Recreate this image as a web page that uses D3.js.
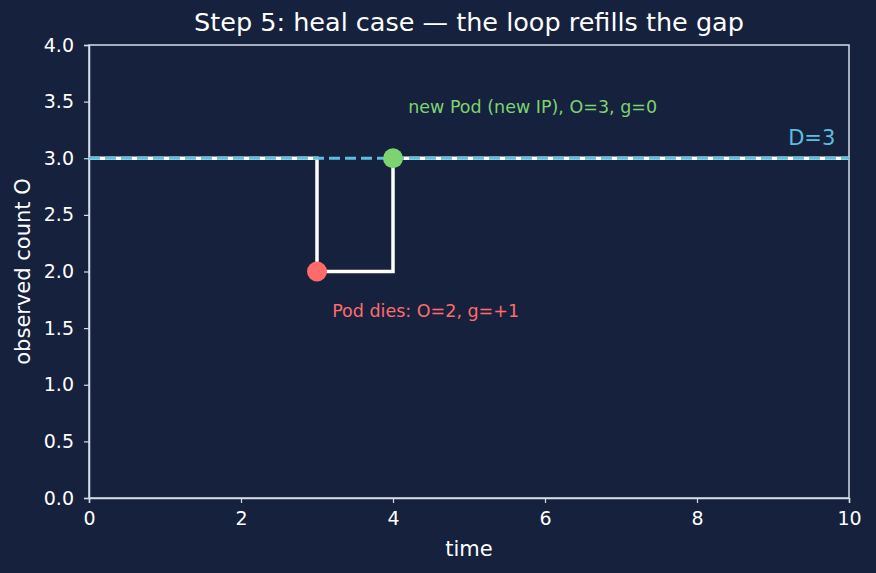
<!DOCTYPE html>
<html>
<head>
<meta charset="utf-8">
<script src="https://cdn.jsdelivr.net/npm/d3@7"></script>
<style>
  html, body { margin: 0; padding: 0; background: #16213e; }
  svg { display: block; font-family: 'DejaVu Sans', sans-serif; }
</style>
</head>
<body>
<svg width="876" height="573"></svg>
<script>
// step data: observed count O over time
const stepTimes = [0, 3, 3, 4, 4, 10];
const stepCounts = [3, 3, 2, 2, 3, 3];
const desired = 3;
const xTicks = [0, 2, 4, 6, 8, 10];
const yTicks = [0, 0.5, 1, 1.5, 2, 2.5, 3, 3.5, 4];
const events = [
  { t: 3, o: 2, color: '#ff6b6b', label: 'Pod dies: O=2, g=+1', lx: 3.2, ly: 1.6 },
  { t: 4, o: 3, color: '#7dd36f', label: 'new Pod (new IP), O=3, g=0', lx: 4.2, ly: 3.4 }
];

const width = 876;
const height = 573;
const margin = { top: 45, right: 27, bottom: 75, left: 89 };
const svg = d3.select('svg');
const fg = '#ffffff';
const spine = '#d6dde6';
const blue = '#5bc0de';

const x = d3.scaleLinear().domain([0, 10]).range([margin.left, width - margin.right]);
const y = d3.scaleLinear().domain([0, 4]).range([height - margin.bottom, margin.top]);

// frame
svg.append('rect')
  .attr('x', x(0)).attr('y', y(4))
  .attr('width', x(10) - x(0)).attr('height', y(0) - y(4))
  .attr('fill', 'none').attr('stroke', spine).attr('stroke-width', 1.5);

const xAxis = svg.append('g')
  .attr('transform', `translate(0,${y(0)})`)
  .call(d3.axisBottom(x).tickValues(xTicks).tickFormat(d3.format('d')).tickSize(5).tickPadding(9));
const yAxis = svg.append('g')
  .attr('transform', `translate(${x(0)},0)`)
  .call(d3.axisLeft(y).tickValues(yTicks).tickFormat(d3.format('.1f')).tickSize(5).tickPadding(10));

[xAxis, yAxis].forEach(function (g) {
  g.select('.domain').attr('stroke', spine).attr('stroke-width', 1.5);
  g.selectAll('.tick line').attr('stroke', spine).attr('stroke-width', 1.2);
  g.selectAll('.tick text').attr('fill', fg).style('font-size', '19px')
    .style('font-family', 'DejaVu Sans, sans-serif');
});

// step line
const line = d3.line().x(function (d) { return x(d[0]); }).y(function (d) { return y(d[1]); });
svg.append('path')
  .datum(d3.zip(stepTimes, stepCounts))
  .attr('d', line)
  .attr('fill', 'none')
  .attr('stroke', fg)
  .attr('stroke-width', 3.5);

// desired line
svg.append('line')
  .attr('x1', x(0)).attr('x2', x(10))
  .attr('y1', y(desired)).attr('y2', y(desired))
  .attr('stroke', blue)
  .attr('stroke-width', 3)
  .attr('stroke-dasharray', '11,5');

svg.append('text')
  .attr('x', x(9.2)).attr('y', y(3.12))
  .attr('fill', blue)
  .style('font-size', '21px')
  .text('D=' + desired);

// events
svg.selectAll('circle.ev')
  .data(events)
  .enter()
  .append('circle')
  .attr('class', 'ev')
  .attr('cx', function (d) { return x(d.t); })
  .attr('cy', function (d) { return y(d.o); })
  .attr('r', 10)
  .attr('fill', function (d) { return d.color; });

svg.selectAll('text.ev')
  .data(events)
  .enter()
  .append('text')
  .attr('class', 'ev')
  .attr('x', function (d) { return x(d.lx); })
  .attr('y', function (d) { return y(d.ly); })
  .attr('fill', function (d) { return d.color; })
  .style('font-size', '17.5px')
  .text(function (d) { return d.label; });

// title and labels
svg.append('text')
  .attr('x', (x(0) + x(10)) / 2)
  .attr('y', 31)
  .attr('fill', fg)
  .style('text-anchor', 'middle')
  .style('font-size', '25.5px')
  .text('Step 5: heal case — the loop refills the gap');

svg.append('text')
  .attr('x', (x(0) + x(10)) / 2)
  .attr('y', 556)
  .attr('fill', fg)
  .style('text-anchor', 'middle')
  .style('font-size', '21px')
  .text('time');

svg.append('text')
  .attr('x', -(y(0) + y(4)) / 2)
  .attr('y', 30)
  .attr('transform', 'rotate(-90)')
  .attr('fill', fg)
  .style('text-anchor', 'middle')
  .style('font-size', '21px')
  .text('observed count O');
</script>
</body>
</html>
